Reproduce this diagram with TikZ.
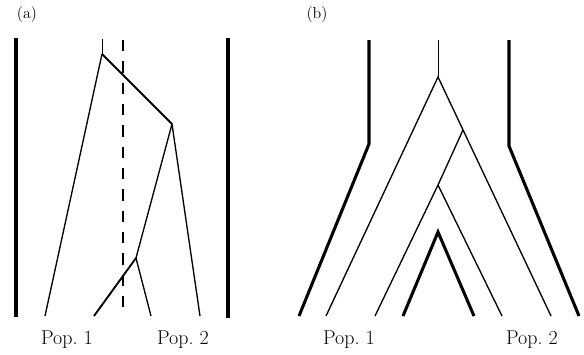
\documentclass[tikz,border=0pt]{standalone}
\begin{document}
\begin{tikzpicture}[x=0.75pt,y=-0.75pt,
  thickln/.style={line width=2.3pt},
  thinln/.style={line width=1pt},
  medln/.style={line width=1.4pt},
  stubln/.style={line width=0.6pt},
  dashln/.style={line width=1.9pt,dash pattern=on 8.5pt off 7.5pt},
  poplbl/.style={inner sep=0pt,font=\fontsize{15}{17}\selectfont},
  panlbl/.style={inner sep=0pt,font=\fontsize{12}{14}\selectfont}]
\useasboundingbox (0,0) rectangle (584,354);
% ---------- panel (a)
\node[panlbl] (la) at (27,15) {(a)};
\coordinate (a1t) at (16,38); \coordinate (a1b) at (16,317);
\coordinate (a2t) at (228,38); \coordinate (a2b) at (228,318);
\coordinate (dt) at (123,40); \coordinate (db) at (123,316);
\coordinate (As) at (102,39);
\coordinate (A) at (102,54);
\coordinate (B) at (172,124);
\coordinate (C) at (136,258);
\coordinate (l1) at (45,316);
\coordinate (l2) at (94,316);
\coordinate (l3) at (151,316);
\coordinate (l4) at (200,316);
\draw[thickln] (a1t) -- (a1b);
\draw[thickln] (a2t) -- (a2b);
\draw[dashln] (dt) -- (db);
\draw[stubln] (As) -- (A);
\draw[thinln] (A) -- (l1);
\draw[medln] (A) -- (B);
\draw[thinln] (B) -- (C);
\draw[thinln] (B) -- (l4);
\draw[medln] (C) -- (l2);
\draw[thinln] (C) -- (l3);
\node[poplbl] (pa1) at (67,340) {Pop.\ 1};
\node[poplbl] (pa2) at (183,340) {Pop.\ 2};
% ---------- panel (b)
\node[panlbl] (lb) at (317,15) {(b)};
\coordinate (b1t) at (369,40); \coordinate (b1m) at (369,144); \coordinate (b1b) at (299,316);
\coordinate (b2t) at (509,40); \coordinate (b2m) at (509,146); \coordinate (b2b) at (579,316);
\coordinate (Ds) at (438,40);
\coordinate (D) at (438,77);
\coordinate (E) at (463,130);
\coordinate (F) at (438,185);
\coordinate (G) at (438,232);
\coordinate (m1) at (326,316);
\coordinate (m2) at (375,316);
\coordinate (m3) at (403,316);
\coordinate (m4) at (474,316);
\coordinate (m5) at (502,316);
\coordinate (m6) at (551,316);
\draw[thickln] (b1t) -- (b1m) -- (b1b);
\draw[thickln] (b2t) -- (b2m) -- (b2b);
\draw[stubln] (Ds) -- (D);
\draw[thinln] (m1) -- (D) -- (m6);
\draw[thinln] (E) -- (F) -- (m2);
\draw[thinln] (F) -- (m5);
\draw[thickln] (m3) -- (G) -- (m4);
\node[poplbl] (pb1) at (349,340) {Pop.\ 1};
\node[poplbl] (pb2) at (532,340) {Pop.\ 2};
\end{tikzpicture}
\end{document}
